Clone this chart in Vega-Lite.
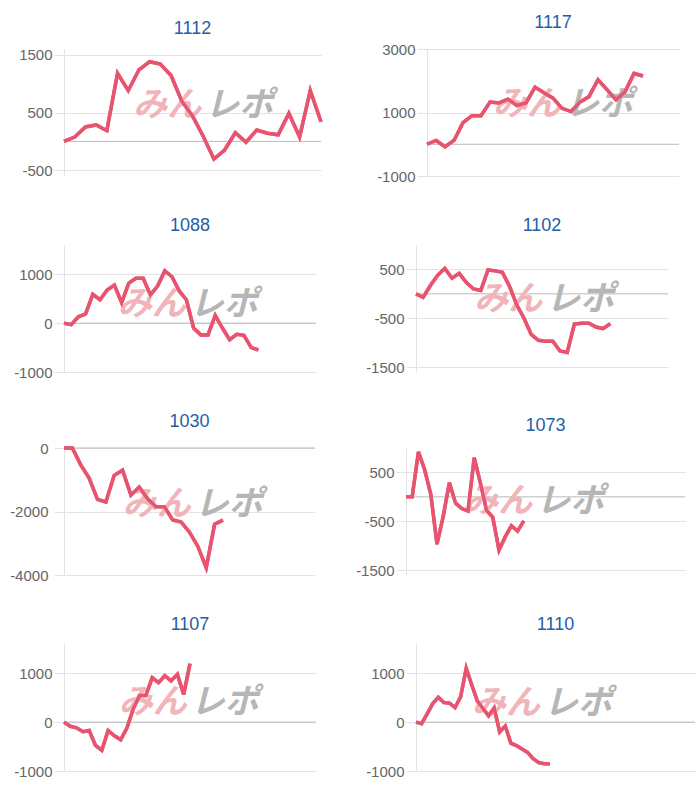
{
  "$schema": "https://vega.github.io/schema/vega-lite/v6.json",
  "background": "white",
  "padding": {"left": 9, "top": 14, "right": 5, "bottom": 5},
  "config": {
    "font": "Liberation Sans",
    "view": {"stroke": null},
    "title": {"fontSize": 18, "fontWeight": "normal", "color": "#1f5ea8", "offset": 10, "font": "Liberation Sans"},
    "line": {"color": "#e8546f", "strokeWidth": 3.5, "strokeJoin": "miter"},
    "rule": {"color": "#b9b9b9", "strokeWidth": 1},
    "text": {"font": "Noto Sans CJK JP", "fontWeight": "bold", "fontStyle": "italic", "fontSize": 34, "baseline": "middle"},
    "axisY": {
      "title": null,
      "domain": true,
      "domainColor": "#e3e3e3",
      "domainWidth": 1,
      "gridColor": "#e3e3e3",
      "tickColor": "#e3e3e3",
      "labelFont": "Liberation Sans",
      "labelFontSize": 15,
      "labelColor": "#666666",
      "labelPadding": 2,
      "tickSize": 10,
      "gridWidth": 1,
      "tickWidth": 1,
      "labelExpr": "'' + datum.value"
    }
  },
  "datasets": {
    "d1112": [
      {"i": 0, "v": 0}, {"i": 1, "v": 75}, {"i": 2, "v": 250}, {"i": 3, "v": 285}, {"i": 4, "v": 185},
      {"i": 5, "v": 1180}, {"i": 6, "v": 880}, {"i": 7, "v": 1240}, {"i": 8, "v": 1380}, {"i": 9, "v": 1340},
      {"i": 10, "v": 1140}, {"i": 11, "v": 695}, {"i": 12, "v": 440}, {"i": 13, "v": 90}, {"i": 14, "v": -305},
      {"i": 15, "v": -150}, {"i": 16, "v": 150}, {"i": 17, "v": -15}, {"i": 18, "v": 195}, {"i": 19, "v": 140},
      {"i": 20, "v": 115}, {"i": 21, "v": 485}, {"i": 22, "v": 75}, {"i": 23, "v": 880}, {"i": 24, "v": 340}
    ],
    "d1117": [
      {"i": 0, "v": 0}, {"i": 1, "v": 120}, {"i": 2, "v": -80}, {"i": 3, "v": 120}, {"i": 4, "v": 680},
      {"i": 5, "v": 900}, {"i": 6, "v": 900}, {"i": 7, "v": 1330}, {"i": 8, "v": 1300}, {"i": 9, "v": 1420},
      {"i": 10, "v": 1220}, {"i": 11, "v": 1300}, {"i": 12, "v": 1800}, {"i": 13, "v": 1620}, {"i": 14, "v": 1450},
      {"i": 15, "v": 1130}, {"i": 16, "v": 1030}, {"i": 17, "v": 1330}, {"i": 18, "v": 1500}, {"i": 19, "v": 2030},
      {"i": 20, "v": 1720}, {"i": 21, "v": 1400}, {"i": 22, "v": 1650}, {"i": 23, "v": 2230}, {"i": 24, "v": 2150}
    ],
    "d1088": [
      {"i": 0, "v": 0}, {"i": 1, "v": -30}, {"i": 2, "v": 130}, {"i": 3, "v": 190}, {"i": 4, "v": 590},
      {"i": 5, "v": 480}, {"i": 6, "v": 680}, {"i": 7, "v": 780}, {"i": 8, "v": 420}, {"i": 9, "v": 820},
      {"i": 10, "v": 920}, {"i": 11, "v": 920}, {"i": 12, "v": 580}, {"i": 13, "v": 760}, {"i": 14, "v": 1070},
      {"i": 15, "v": 950}, {"i": 16, "v": 660}, {"i": 17, "v": 480}, {"i": 18, "v": -100}, {"i": 19, "v": -240},
      {"i": 20, "v": -240}, {"i": 21, "v": 160}, {"i": 22, "v": -100}, {"i": 23, "v": -340}, {"i": 24, "v": -230},
      {"i": 25, "v": -250}, {"i": 26, "v": -500}, {"i": 27, "v": -550}
    ],
    "d1102": [
      {"i": 0, "v": 0}, {"i": 1, "v": -70}, {"i": 2, "v": 170}, {"i": 3, "v": 380}, {"i": 4, "v": 520},
      {"i": 5, "v": 320}, {"i": 6, "v": 420}, {"i": 7, "v": 230}, {"i": 8, "v": 100}, {"i": 9, "v": 70},
      {"i": 10, "v": 490}, {"i": 11, "v": 470}, {"i": 12, "v": 440}, {"i": 13, "v": 150}, {"i": 14, "v": -230},
      {"i": 15, "v": -500}, {"i": 16, "v": -830}, {"i": 17, "v": -950}, {"i": 18, "v": -970}, {"i": 19, "v": -970},
      {"i": 20, "v": -1170}, {"i": 21, "v": -1200}, {"i": 22, "v": -620}, {"i": 23, "v": -600}, {"i": 24, "v": -600},
      {"i": 25, "v": -680}, {"i": 26, "v": -710}, {"i": 27, "v": -610}
    ],
    "d1030": [
      {"i": 0, "v": 0}, {"i": 1, "v": 0}, {"i": 2, "v": -530}, {"i": 3, "v": -950}, {"i": 4, "v": -1620},
      {"i": 5, "v": -1700}, {"i": 6, "v": -860}, {"i": 7, "v": -700}, {"i": 8, "v": -1480}, {"i": 9, "v": -1230},
      {"i": 10, "v": -1600}, {"i": 11, "v": -1850}, {"i": 12, "v": -1850}, {"i": 13, "v": -2270}, {"i": 14, "v": -2330},
      {"i": 15, "v": -2650}, {"i": 16, "v": -3100}, {"i": 17, "v": -3770}, {"i": 18, "v": -2400}, {"i": 19, "v": -2270}
    ],
    "d1073": [
      {"i": 0, "v": 0}, {"i": 1, "v": 0}, {"i": 2, "v": 920}, {"i": 3, "v": 560}, {"i": 4, "v": 50},
      {"i": 5, "v": -970}, {"i": 6, "v": -400}, {"i": 7, "v": 290}, {"i": 8, "v": -130}, {"i": 9, "v": -240},
      {"i": 10, "v": -290}, {"i": 11, "v": 800}, {"i": 12, "v": 280}, {"i": 13, "v": -280}, {"i": 14, "v": -420},
      {"i": 15, "v": -1090}, {"i": 16, "v": -820}, {"i": 17, "v": -590}, {"i": 18, "v": -700}, {"i": 19, "v": -490}
    ],
    "d1107": [
      {"i": 0, "v": 0}, {"i": 1, "v": -85}, {"i": 2, "v": -117}, {"i": 3, "v": -195}, {"i": 4, "v": -170},
      {"i": 5, "v": -475}, {"i": 6, "v": -575}, {"i": 7, "v": -170}, {"i": 8, "v": -280}, {"i": 9, "v": -360},
      {"i": 10, "v": -117}, {"i": 11, "v": 275}, {"i": 12, "v": 548}, {"i": 13, "v": 548}, {"i": 14, "v": 912},
      {"i": 15, "v": 808}, {"i": 16, "v": 950}, {"i": 17, "v": 847}, {"i": 18, "v": 978}, {"i": 19, "v": 567},
      {"i": 20, "v": 1200}
    ],
    "d1110": [
      {"i": 0, "v": 0}, {"i": 1, "v": -30}, {"i": 2, "v": 170}, {"i": 3, "v": 380}, {"i": 4, "v": 510},
      {"i": 5, "v": 400}, {"i": 6, "v": 390}, {"i": 7, "v": 300}, {"i": 8, "v": 520}, {"i": 9, "v": 1100},
      {"i": 10, "v": 760}, {"i": 11, "v": 430}, {"i": 12, "v": 280}, {"i": 13, "v": 130}, {"i": 14, "v": 290},
      {"i": 15, "v": -200}, {"i": 16, "v": -80}, {"i": 17, "v": -430}, {"i": 18, "v": -480}, {"i": 19, "v": -550},
      {"i": 20, "v": -620}, {"i": 21, "v": -750}, {"i": 22, "v": -830}, {"i": 23, "v": -850}, {"i": 24, "v": -850}
    ],
    "logo": [{"name": "みんレポ"}]
  },
  "spacing": 33,
  "vconcat": [
    {
      "spacing": 48,
      "hconcat": [
        {
          "title": "1112", "width": 257, "height": 127,
          "layer": [
            {"data": {"name": "d1112"}, "mark": "line", "encoding": {
              "x": {"field": "i", "type": "quantitative", "scale": {"domain": [0, 24]}, "axis": null},
              "y": {"field": "v", "type": "quantitative", "scale": {"domain": [-500, 1500]}, "axis": {"values": [-500, 0, 500, 1000, 1500]}}
            }},
            {"data": {"name": "logo"}, "mark": "rule", "encoding": {"y": {"datum": 0, "type": "quantitative"}}},
            {"data": {"name": "logo"}, "mark": {"type": "text", "align": "right", "dx": -2, "color": "#f0b4b9"}, "encoding": {"x": {"datum": 13, "type": "quantitative"}, "y": {"datum": 620, "type": "quantitative"}, "text": {"value": "みん"}}},
            {"data": {"name": "logo"}, "mark": {"type": "text", "align": "left", "dx": 2, "color": "#b6b6b6"}, "encoding": {"x": {"datum": 13, "type": "quantitative"}, "y": {"datum": 620, "type": "quantitative"}, "text": {"value": "レポ"}}},
            {"data": {"name": "d1112"}, "mark": "line", "encoding": {"x": {"field": "i", "type": "quantitative"}, "y": {"field": "v", "type": "quantitative"}}}
          ]
        },
        {
          "title": "1117", "width": 252, "height": 127,
          "layer": [
            {"data": {"name": "d1117"}, "mark": "line", "encoding": {
              "x": {"field": "i", "type": "quantitative", "scale": {"domain": [0, 28]}, "axis": null},
              "y": {"field": "v", "type": "quantitative", "scale": {"domain": [-1000, 3000]}, "axis": {"values": [-1000, 0, 1000, 2000, 3000]}}
            }},
            {"data": {"name": "logo"}, "mark": "rule", "encoding": {"y": {"datum": 0, "type": "quantitative"}}},
            {"data": {"name": "logo"}, "mark": {"type": "text", "align": "right", "dx": -2, "color": "#f0b4b9"}, "encoding": {"x": {"datum": 15.1, "type": "quantitative"}, "y": {"datum": 1240, "type": "quantitative"}, "text": {"value": "みん"}}},
            {"data": {"name": "logo"}, "mark": {"type": "text", "align": "left", "dx": 2, "color": "#b6b6b6"}, "encoding": {"x": {"datum": 15.1, "type": "quantitative"}, "y": {"datum": 1240, "type": "quantitative"}, "text": {"value": "レポ"}}},
            {"data": {"name": "d1117"}, "mark": "line", "encoding": {"x": {"field": "i", "type": "quantitative"}, "y": {"field": "v", "type": "quantitative"}}}
          ]
        }
      ]
    },
    {
      "spacing": 48,
      "hconcat": [
        {
          "title": "1088", "width": 252, "height": 127,
          "layer": [
            {"data": {"name": "d1088"}, "mark": "line", "encoding": {
              "x": {"field": "i", "type": "quantitative", "scale": {"domain": [0, 32]}, "axis": null},
              "y": {"field": "v", "type": "quantitative", "scale": {"domain": [-1000, 1500]}, "axis": {"values": [-1000, -500, 0, 500, 1000, 1500]}}
            }},
            {"data": {"name": "logo"}, "mark": "rule", "encoding": {"y": {"datum": 0, "type": "quantitative"}}},
            {"data": {"name": "logo"}, "mark": {"type": "text", "align": "right", "dx": -2, "color": "#f0b4b9"}, "encoding": {"x": {"datum": 17.2, "type": "quantitative"}, "y": {"datum": 380, "type": "quantitative"}, "text": {"value": "みん"}}},
            {"data": {"name": "logo"}, "mark": {"type": "text", "align": "left", "dx": 2, "color": "#b6b6b6"}, "encoding": {"x": {"datum": 17.2, "type": "quantitative"}, "y": {"datum": 380, "type": "quantitative"}, "text": {"value": "レポ"}}},
            {"data": {"name": "d1088"}, "mark": "line", "encoding": {"x": {"field": "i", "type": "quantitative"}, "y": {"field": "v", "type": "quantitative"}}}
          ]
        },
        {
          "title": "1102", "width": 252, "height": 127,
          "layer": [
            {"data": {"name": "d1102"}, "mark": "line", "encoding": {
              "x": {"field": "i", "type": "quantitative", "scale": {"domain": [0, 33]}, "axis": null},
              "y": {"field": "v", "type": "quantitative", "scale": {"domain": [-1500, 1000]}, "axis": {"values": [-1500, -1000, -500, 0, 500, 1000]}}
            }},
            {"data": {"name": "logo"}, "mark": "rule", "encoding": {"y": {"datum": 0, "type": "quantitative"}}},
            {"data": {"name": "logo"}, "mark": {"type": "text", "align": "right", "dx": -2, "color": "#f0b4b9"}, "encoding": {"x": {"datum": 17.8, "type": "quantitative"}, "y": {"datum": -125, "type": "quantitative"}, "text": {"value": "みん"}}},
            {"data": {"name": "logo"}, "mark": {"type": "text", "align": "left", "dx": 2, "color": "#b6b6b6"}, "encoding": {"x": {"datum": 17.8, "type": "quantitative"}, "y": {"datum": -125, "type": "quantitative"}, "text": {"value": "レポ"}}},
            {"data": {"name": "d1102"}, "mark": "line", "encoding": {"x": {"field": "i", "type": "quantitative"}, "y": {"field": "v", "type": "quantitative"}}}
          ]
        }
      ]
    },
    {
      "spacing": 39,
      "hconcat": [
        {
          "title": "1030", "width": 251, "height": 127,
          "layer": [
            {"data": {"name": "d1030"}, "mark": "line", "encoding": {
              "x": {"field": "i", "type": "quantitative", "scale": {"domain": [0, 29]}, "axis": null},
              "y": {"field": "v", "type": "quantitative", "scale": {"domain": [-4000, 0]}, "axis": {"values": [-4000, -3000, -2000, -1000, 0], "labelPadding": 6}}
            }},
            {"data": {"name": "logo"}, "mark": "rule", "encoding": {"y": {"datum": 0, "type": "quantitative"}}},
            {"data": {"name": "logo"}, "mark": {"type": "text", "align": "right", "dx": -2, "color": "#f0b4b9"}, "encoding": {"x": {"datum": 15.4, "type": "quantitative"}, "y": {"datum": -1800, "type": "quantitative"}, "text": {"value": "みん"}}},
            {"data": {"name": "logo"}, "mark": {"type": "text", "align": "left", "dx": 2, "color": "#b6b6b6"}, "encoding": {"x": {"datum": 15.4, "type": "quantitative"}, "y": {"datum": -1800, "type": "quantitative"}, "text": {"value": "レポ"}}},
            {"data": {"name": "d1030"}, "mark": "line", "encoding": {"x": {"field": "i", "type": "quantitative"}, "y": {"field": "v", "type": "quantitative"}}}
          ]
        },
        {
          "title": "1073", "width": 279, "height": 127,
          "layer": [
            {"data": {"name": "d1073"}, "mark": "line", "encoding": {
              "x": {"field": "i", "type": "quantitative", "scale": {"domain": [0, 43]}, "axis": null},
              "y": {"field": "v", "type": "quantitative", "scale": {"domain": [-1500, 1000]}, "axis": {"values": [-1500, -1000, -500, 0, 500, 1000]}}
            }},
            {"data": {"name": "logo"}, "mark": "rule", "encoding": {"y": {"datum": 0, "type": "quantitative"}}},
            {"data": {"name": "logo"}, "mark": {"type": "text", "align": "right", "dx": -2, "color": "#f0b4b9"}, "encoding": {"x": {"datum": 20.7, "type": "quantitative"}, "y": {"datum": -100, "type": "quantitative"}, "text": {"value": "みん"}}},
            {"data": {"name": "logo"}, "mark": {"type": "text", "align": "left", "dx": 2, "color": "#b6b6b6"}, "encoding": {"x": {"datum": 20.7, "type": "quantitative"}, "y": {"datum": -100, "type": "quantitative"}, "text": {"value": "レポ"}}},
            {"data": {"name": "d1073"}, "mark": "line", "encoding": {"x": {"field": "i", "type": "quantitative"}, "y": {"field": "v", "type": "quantitative"}}}
          ]
        }
      ]
    },
    {
      "spacing": 48,
      "hconcat": [
        {
          "title": "1107", "width": 252, "height": 127,
          "layer": [
            {"data": {"name": "d1107"}, "mark": "line", "encoding": {
              "x": {"field": "i", "type": "quantitative", "scale": {"domain": [0, 37]}, "axis": null},
              "y": {"field": "v", "type": "quantitative", "scale": {"domain": [-1000, 1500]}, "axis": {"values": [-1000, -500, 0, 500, 1000, 1500]}}
            }},
            {"data": {"name": "logo"}, "mark": "rule", "encoding": {"y": {"datum": 0, "type": "quantitative"}}},
            {"data": {"name": "logo"}, "mark": {"type": "text", "align": "right", "dx": -2, "color": "#f0b4b9"}, "encoding": {"x": {"datum": 19.8, "type": "quantitative"}, "y": {"datum": 400, "type": "quantitative"}, "text": {"value": "みん"}}},
            {"data": {"name": "logo"}, "mark": {"type": "text", "align": "left", "dx": 2, "color": "#b6b6b6"}, "encoding": {"x": {"datum": 19.8, "type": "quantitative"}, "y": {"datum": 400, "type": "quantitative"}, "text": {"value": "レポ"}}},
            {"data": {"name": "d1107"}, "mark": "line", "encoding": {"x": {"field": "i", "type": "quantitative"}, "y": {"field": "v", "type": "quantitative"}}}
          ]
        },
        {
          "title": "1110", "width": 279, "height": 127,
          "layer": [
            {"data": {"name": "d1110"}, "mark": "line", "encoding": {
              "x": {"field": "i", "type": "quantitative", "scale": {"domain": [0, 47]}, "axis": null},
              "y": {"field": "v", "type": "quantitative", "scale": {"domain": [-1000, 1500]}, "axis": {"values": [-1000, -500, 0, 500, 1000, 1500]}}
            }},
            {"data": {"name": "logo"}, "mark": "rule", "encoding": {"y": {"datum": 0, "type": "quantitative"}}},
            {"data": {"name": "logo"}, "mark": {"type": "text", "align": "right", "dx": -2, "color": "#f0b4b9"}, "encoding": {"x": {"datum": 22.6, "type": "quantitative"}, "y": {"datum": 375, "type": "quantitative"}, "text": {"value": "みん"}}},
            {"data": {"name": "logo"}, "mark": {"type": "text", "align": "left", "dx": 2, "color": "#b6b6b6"}, "encoding": {"x": {"datum": 22.6, "type": "quantitative"}, "y": {"datum": 375, "type": "quantitative"}, "text": {"value": "レポ"}}},
            {"data": {"name": "d1110"}, "mark": "line", "encoding": {"x": {"field": "i", "type": "quantitative"}, "y": {"field": "v", "type": "quantitative"}}}
          ]
        }
      ]
    }
  ]
}
